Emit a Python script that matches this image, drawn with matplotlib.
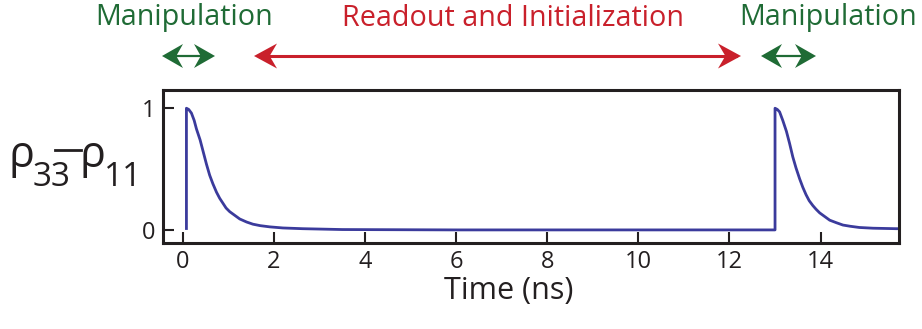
import matplotlib
matplotlib.use("Agg")
import matplotlib.pyplot as plt
from matplotlib.patches import Polygon
from matplotlib.lines import Line2D

plt.rcParams['font.family'] = ['Open Sans', 'DejaVu Sans']

# Population inversion after each manipulation pulse (ns, rho33 - rho11)
pulse1_t = [0.08, 0.08, 0.13, 0.19, 0.25, 0.30, 0.38, 0.45, 0.52, 0.59, 0.66, 0.74,
            0.81, 0.88, 0.95, 1.03, 1.14, 1.25, 1.40, 1.54, 1.70, 1.91, 2.20, 2.63, 3.50]
pulse1_v = [0.0, 1.0, 0.99, 0.96, 0.90, 0.83, 0.74, 0.64, 0.54, 0.45, 0.38, 0.31,
            0.26, 0.22, 0.18, 0.15, 0.12, 0.09, 0.065, 0.047, 0.035, 0.025, 0.016, 0.01, 0.003]
gap_t = [6.0, 10.0, 13.0]
gap_v = [0.0, 0.0, 0.0]
pulse2_t = [13.0, 13.0, 13.05, 13.10, 13.17, 13.25, 13.32, 13.39, 13.46, 13.54, 13.61, 13.68,
            13.75, 13.83, 13.90, 13.98, 14.09, 14.20, 14.34, 14.49, 14.65, 14.85, 15.15, 15.66, 15.75]
pulse2_v = [0.0, 1.0, 0.99, 0.97, 0.90, 0.81, 0.71, 0.60, 0.51, 0.42, 0.35, 0.29,
            0.24, 0.20, 0.17, 0.14, 0.11, 0.08, 0.06, 0.04, 0.03, 0.02, 0.014, 0.01, 0.01]

x_ticks = [0, 2, 4, 6, 8, 10, 12, 14]
y_ticks = [0, 1]

GREEN = '#1f6b35'
RED = '#c9202b'
AXIS = '#231f20'
LINE = '#3b3b9c'

W, H = 922, 329
fig = plt.figure(figsize=(W / 100, H / 100), dpi=100)
ax = fig.add_axes([0.1765, 0.2605, 0.7985, 0.466])

t = pulse1_t + gap_t + pulse2_t
v = pulse1_v + gap_v + pulse2_v
ax.plot(t, v, color=LINE, lw=2.0, solid_joinstyle='round', solid_capstyle='butt')

ax.set_xlim(-0.44, 15.72)
ax.set_ylim(-0.11, 1.15)
ax.set_xticks(x_ticks)
ax.set_yticks(y_ticks)
ax.tick_params(direction='in', length=8, width=1.5, color=AXIS,
               labelsize=17, labelcolor=AXIS, pad=5)
for s in ax.spines.values():
    s.set_linewidth(2.2)
    s.set_color(AXIS)

ax.set_xlabel('Time (ns)', fontsize=22, color=AXIS, labelpad=1)
ax.xaxis.label.set_x(0.470)


def px(x, y):
    # figure pixels measured from the top-left corner -> figure fraction
    return x / W, 1 - y / H


# y-axis label built from pieces: rho_33 - rho_11
def txt(x, y, s, size, **kw):
    fig.text(*px(x, y), s, fontsize=size, color=AXIS, ha='left', va='baseline', **kw)

txt(8, 167, 'ρ', 31)
txt(33, 186, '33', 24)
fig.add_artist(Line2D([55 / W, 81 / W], [1 - 150 / H] * 2, color=AXIS, lw=2.0))
txt(79, 167, 'ρ', 31)
txt(104, 186, '11', 24)


def head(tip_x, y, direction, color, length, half):
    back = tip_x - direction * length
    notch = tip_x - direction * length * 0.68
    pts = [px(tip_x, y), px(back, y - half), px(notch, y), px(back, y + half)]
    fig.add_artist(Polygon(pts, closed=True, transform=fig.transFigure,
                           facecolor=color, edgecolor='none'))


# phase labels above the trace
def phase(x0, x1, label, xc, color, lw, length, half):
    fig.text(*px(xc, 18), label, color=color, fontsize=20.7, ha='center', va='center')
    y = 56
    fig.add_artist(Line2D([(x0 + 5) / W, (x1 - 5) / W], [1 - y / H] * 2,
                          color=color, lw=lw))
    head(x0, y, -1, color, length, half)
    head(x1, y, 1, color, length, half)

phase(162, 215, 'Manipulation', 184, GREEN, 1.6, 21, 12)
phase(254, 741, 'Readout and Initialization', 513, RED, 2.2, 23, 12.5)
phase(761, 816, 'Manipulation', 828, GREEN, 1.6, 21, 12)

fig.savefig('out.png', dpi=100)
